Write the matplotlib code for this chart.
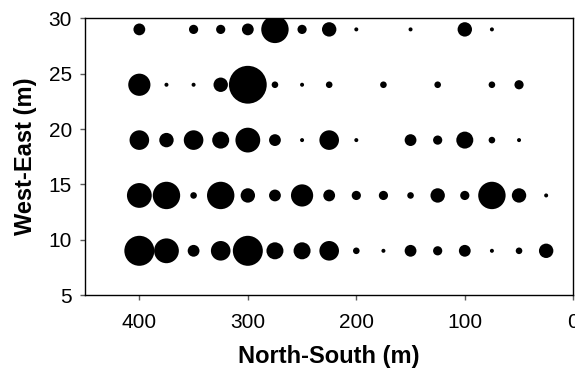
import numpy as np
import matplotlib
matplotlib.use("Agg")
import matplotlib.pyplot as plt

plt.rcParams['font.family'] = ['Liberation Sans', 'DejaVu Sans']

# sampling positions (m) along North-South axis
ns_positions = [400, 375, 350, 325, 300, 275, 250, 225, 200, 175, 150, 125, 100, 75, 50, 25]

# abundance per transect row (West-East position), 0 = nothing found
row_we = [29, 24, 19, 14, 9]
counts_29 = [4, 0, 3, 3, 4, 10, 3, 5, 1, 0, 1, 0, 5, 1, 0, 0]
counts_24 = [8, 1, 1, 5, 14, 2, 1, 2, 0, 2, 0, 2, 0, 2, 3, 0]
counts_19 = [7, 5, 7, 6, 9, 4, 1, 7, 1, 0, 4, 3, 6, 2, 1, 0]
counts_14 = [9, 10, 2, 10, 5, 4, 8, 4, 3, 3, 2, 5, 3, 10, 5, 1]
counts_9 = [11, 9, 4, 7, 11, 6, 6, 7, 2, 1, 4, 3, 4, 1, 2, 5]

rows = [counts_29, counts_24, counts_19, counts_14, counts_9]

fig = plt.figure(figsize=(5.75, 3.74), dpi=100)
ax = fig.add_axes([0.148, 0.211, 0.849, 0.740])

for we, counts in zip(row_we, rows):
    c = np.array(counts, dtype=float)
    x = np.array(ns_positions)
    keep = c > 0
    # bubble diameter grows linearly with count
    diam_px = 2.6 * c[keep] + 1.4
    sizes = (diam_px * 0.72) ** 2
    ax.scatter(x[keep], np.full(keep.sum(), we), s=sizes, c='black',
               edgecolors='none', zorder=3)

ax.set_xlim(450, 0)
ax.set_ylim(5, 30)
ax.set_xticks([400, 300, 200, 100, 0])
ax.set_yticks([5, 10, 15, 20, 25, 30])

ax.tick_params(direction='out', length=3.5, width=1, color='0.35',
               labelsize=15)
ax.tick_params(axis='x', pad=9.5)
ax.tick_params(axis='y', pad=6)
for sp in ax.spines.values():
    sp.set_linewidth(1)
    sp.set_color('black')

ax.set_xlabel('North-South (m)', fontsize=17, fontweight='bold', labelpad=9)
ax.set_ylabel('West-East (m)', fontsize=17, fontweight='bold', labelpad=8)

fig.savefig('out.png', dpi=100)
